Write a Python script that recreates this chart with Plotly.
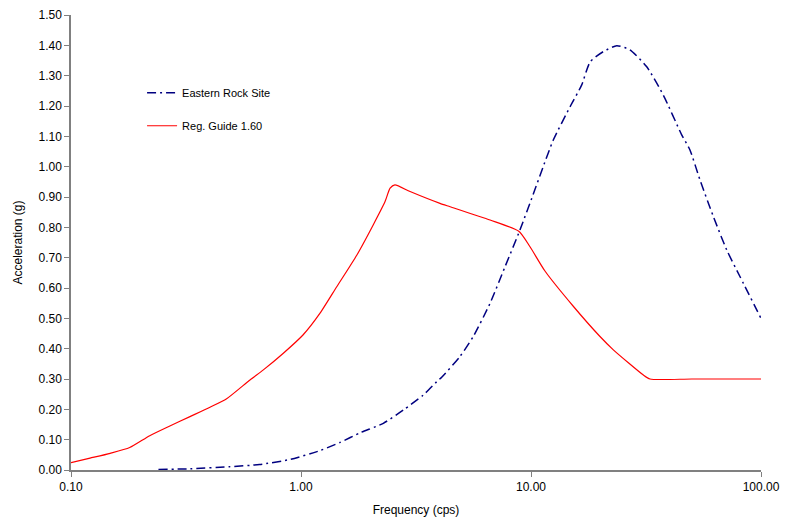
import plotly.graph_objects as go

# Eastern Rock Site spectrum (frequency cps, acceleration g)
ers_freq = [0.24, 0.33, 0.49, 0.66, 0.90, 1.21, 1.48, 1.81, 2.28, 2.79, 3.40, 3.89, 4.09,
            4.91, 5.61, 6.64, 7.71, 8.95, 10.2, 11.3, 12.5, 14.8, 16.6, 18.1, 20.6, 23.6,
            26.9, 31.8, 37.6, 45.2, 49.1, 54.3, 62.1, 71.0, 81.1, 100.0]
ers_acc = [0.002, 0.004, 0.011, 0.018, 0.035, 0.064, 0.091, 0.123, 0.154, 0.198, 0.247, 0.291, 0.306,
           0.374, 0.440, 0.550, 0.670, 0.791, 0.907, 1.000, 1.088, 1.198, 1.269, 1.346, 1.379, 1.399,
           1.385, 1.330, 1.236, 1.105, 1.055, 0.956, 0.835, 0.725, 0.637, 0.500]

# Regulatory Guide 1.60 spectrum
rg_freq = [0.10, 0.121, 0.148, 0.180, 0.220, 0.269, 0.329, 0.402, 0.475, 0.600, 0.686, 0.838,
           1.02, 1.21, 1.43, 1.75, 2.06, 2.32, 2.44, 2.56, 2.98, 4.02, 4.45, 6.64, 8.85,
           9.9, 11.5, 15.3, 19.95, 22.8, 30.8, 32.9, 50.0, 100.0]
rg_acc = [0.024, 0.039, 0.055, 0.074, 0.113, 0.145, 0.176, 0.207, 0.235, 0.297, 0.330, 0.385,
          0.445, 0.517, 0.604, 0.709, 0.808, 0.885, 0.929, 0.940, 0.918, 0.879, 0.868, 0.824, 0.787,
          0.736, 0.656, 0.539, 0.440, 0.396, 0.313, 0.300, 0.300, 0.300]

x_tickvals = [0.1, 1, 10, 100]
x_ticktext = ["0.10", "1.00", "10.00", "100.00"]
y_tickvals = [i / 10 for i in range(16)]
y_ticktext = [f"{v:.2f}" for v in y_tickvals]

fig = go.Figure()
fig.add_trace(go.Scatter(
    x=ers_freq, y=ers_acc, mode="lines", name="Eastern Rock Site",
    line=dict(color="#000080", width=1.5, dash="9px,4px,2px,4px", shape="spline", smoothing=0.6),
    legendgroup="a"))
fig.add_trace(go.Scatter(
    x=rg_freq, y=rg_acc, mode="lines", name="Reg. Guide 1.60",
    line=dict(color="#FF0000", width=1.2, shape="spline", smoothing=0.6),
    legendgroup="b"))

axis_font = dict(family="Liberation Sans, Arial, sans-serif", size=12, color="#000000")

fig.update_layout(
    width=785, height=522,
    margin=dict(l=71, r=24, t=15, b=52, autoexpand=False),
    paper_bgcolor="white", plot_bgcolor="white",
    font=dict(family="Liberation Sans, Arial, sans-serif", size=12, color="#000000"),
    showlegend=True,
    legend=dict(x=0.103, y=0.861, xanchor="left", yanchor="top",
                font=dict(family="Liberation Sans, Arial, sans-serif", size=11, color="#000000"),
                bgcolor="rgba(0,0,0,0)", tracegroupgap=14, traceorder="grouped"),
    xaxis=dict(type="log", range=[-1, 2], tickvals=x_tickvals, ticktext=x_ticktext,
               showgrid=False, zeroline=False, showline=True, linecolor="#808080", linewidth=1.5,
               ticks="outside", ticklen=5, tickcolor="#808080", tickfont=axis_font, automargin=False,
               title=dict(text="Frequency (cps)", font=axis_font, standoff=12)),
    yaxis=dict(range=[0, 1.5], tickvals=y_tickvals, ticktext=y_ticktext,
               showgrid=False, zeroline=False, showline=True, linecolor="#808080", linewidth=1.5,
               ticks="outside", ticklen=5, tickcolor="#808080", tickfont=axis_font, automargin=False,
               title=dict(text="Acceleration (g)", font=axis_font, standoff=13)),
)

fig.write_html("out.html")
